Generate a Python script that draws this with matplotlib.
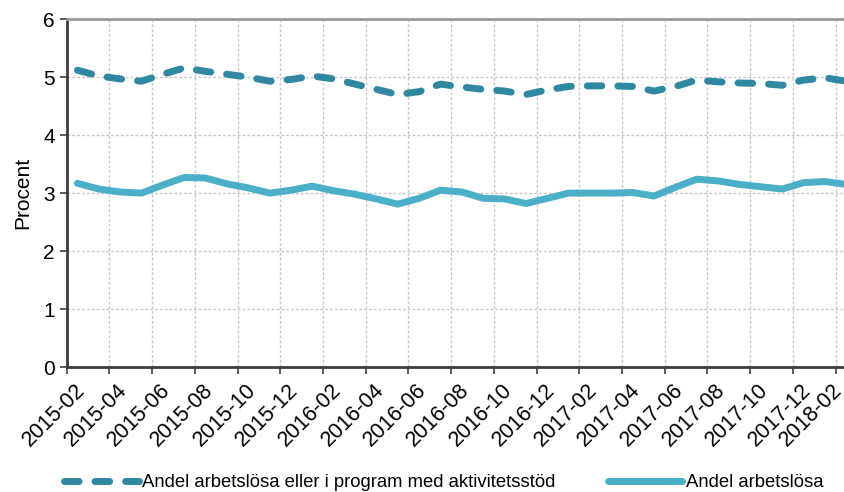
import numpy as np
import matplotlib.pyplot as plt

plt.rcParams['font.family'] = ['Liberation Sans', 'DejaVu Sans']

# monthly data 2015-02 .. 2018-02
months = ['2015-02', '2015-03', '2015-04', '2015-05', '2015-06', '2015-07',
          '2015-08', '2015-09', '2015-10', '2015-11', '2015-12', '2016-01',
          '2016-02', '2016-03', '2016-04', '2016-05', '2016-06', '2016-07',
          '2016-08', '2016-09', '2016-10', '2016-11', '2016-12', '2017-01',
          '2017-02', '2017-03', '2017-04', '2017-05', '2017-06', '2017-07',
          '2017-08', '2017-09', '2017-10', '2017-11', '2017-12', '2018-01',
          '2018-02']
med_program = [5.12, 5.02, 4.97, 4.93, 5.05, 5.16, 5.10, 5.05, 5.00, 4.93,
               4.96, 5.02, 4.97, 4.88, 4.79, 4.70, 4.75, 4.88, 4.83, 4.79,
               4.76, 4.70, 4.78, 4.84, 4.85, 4.85, 4.84, 4.76, 4.84, 4.95,
               4.92, 4.90, 4.89, 4.86, 4.95, 4.99, 4.93]
arbetslosa = [3.17, 3.07, 3.02, 3.00, 3.14, 3.27, 3.26, 3.16, 3.09, 3.00,
              3.05, 3.12, 3.04, 2.98, 2.90, 2.81, 2.91, 3.05, 3.02, 2.91,
              2.90, 2.82, 2.91, 3.00, 3.00, 3.00, 3.01, 2.95, 3.10, 3.24,
              3.21, 3.15, 3.11, 3.07, 3.18, 3.20, 3.15]

label_dash = 'Andel arbetslösa eller i program med aktivitetsstöd'
label_solid = 'Andel arbetslösa'

fig = plt.figure(figsize=(8.45, 4.92), dpi=100)
ax = fig.add_axes([0.079, 0.254, 0.925, 0.707])

x = np.arange(len(months)) + 0.5
l1, = ax.plot(x, med_program, color='#2f88a0', lw=5, dash_capstyle='round',
              solid_capstyle='round', label=label_dash)
l1.set_dashes((2.1, 2.3))
l2, = ax.plot(x, arbetslosa, color='#4bafc8', lw=5, solid_capstyle='round',
              solid_joinstyle='round', label=label_solid)

ax.set_xlim(0, 36.6)
ax.set_ylim(0, 6)
# major ticks at category borders (grid + tick marks), labels on minor ticks
# nudged a little to the right, as in the original
ticks = np.arange(0, len(months), 2)
ax.set_xticks(ticks)
ax.set_xticklabels([])
lab_pos = ticks + 0.35
lab_pos[-1] -= 0.55  # last label squeezed in at the right edge
ax.set_xticks(lab_pos, minor=True)
ax.set_xticklabels([months[i] for i in ticks], minor=True, rotation=45,
                   ha='right', rotation_mode='anchor', fontsize=15.5)
ax.tick_params(axis='x', which='minor', length=0, pad=9)
ax.tick_params(axis='x', which='major', length=5, width=1.2, color='#404040')
ax.set_yticks(range(7))
ax.tick_params(axis='y', labelsize=15, length=5, width=1.2, color='#404040')
ax.set_ylabel('Procent', fontsize=15, labelpad=8)

ax.grid(True, which='major', color='#c8c8c8', linestyle=(0, (2, 1.5)),
        linewidth=1)
ax.set_axisbelow(True)
for s in ['left', 'bottom']:
    ax.spines[s].set_color('#3c3c3c')
    ax.spines[s].set_linewidth(2)
ax.spines['top'].set_color('#9a9a9a')
ax.spines['top'].set_linewidth(2)
ax.spines['right'].set_visible(False)

fig.legend(handles=[l1, l2], loc='lower left', bbox_to_anchor=(0.056, -0.032),
           ncol=2, frameon=False, fontsize=13.3, handlelength=4.05,
           handletextpad=0.2, columnspacing=2.8)

fig.savefig('out.png', dpi=100)
